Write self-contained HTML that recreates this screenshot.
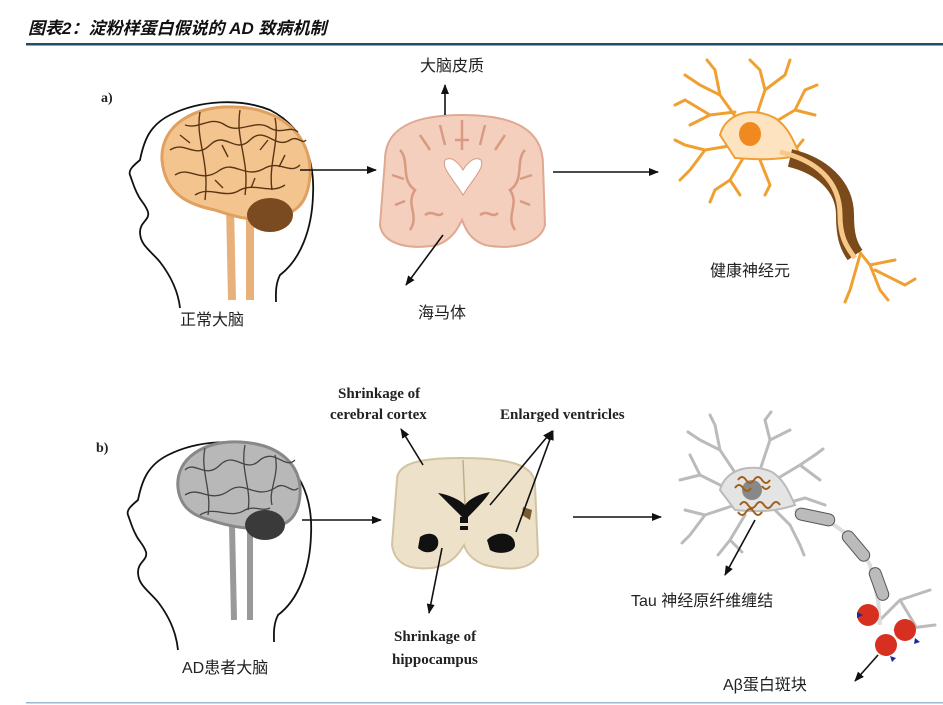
<!DOCTYPE html>
<html><head><meta charset="utf-8"><style>
html,body{margin:0;padding:0;background:#fff;width:943px;height:705px;overflow:hidden}
svg{display:block}
.t{font-family:"Liberation Sans","Noto Sans CJK SC",sans-serif;font-size:16px;fill:#222}
.s{font-family:"Liberation Serif","Noto Serif CJK SC",serif;font-size:15px;font-weight:bold;fill:#222}
</style></head><body>
<svg width="943" height="705" viewBox="0 0 943 705" xmlns="http://www.w3.org/2000/svg">
<defs>
<marker id="ah" markerWidth="10" markerHeight="8" refX="9" refY="4" orient="auto" markerUnits="userSpaceOnUse"><path d="M0,0 L10,4 L0,8 Z" fill="#111"/></marker>
</defs>
<text x="28" y="34" style="font-family:'Liberation Sans','Noto Sans CJK SC',sans-serif;font-size:17px;font-weight:bold;font-style:italic" fill="#111">图表2：淀粉样蛋白假说的 AD 致病机制</text>
<rect x="26" y="43" width="917" height="2.5" fill="#1d4e66"/>
<rect x="26" y="702" width="917" height="1.5" fill="#9bb8cc"/>

<!-- panel a -->
<text x="101" y="102" class="s" style="font-size:14px">a)</text>
<path d="M180,308 C178,290 170,275 160,262 C150,250 140,245 140,232 C140,222 150,220 148,212 C146,205 140,200 138,195 C134,188 132,180 130,175 C128,170 134,165 140,160 C144,140 150,125 170,115 C200,100 240,98 270,110 C300,125 315,155 313,195 C312,230 300,260 280,275 C275,285 276,295 276,302" fill="none" stroke="#111" stroke-width="1.8"/>
<path d="M230,205 L232,300 M250,205 L250,300" stroke="#e8b07a" stroke-width="8"/>
<path d="M162,160 C160,125 195,105 235,107 C280,108 312,135 310,175 C308,205 295,215 270,218 C250,222 230,215 215,210 C190,205 165,195 162,160Z" fill="#f4c48e" stroke="#e0a060" stroke-width="3"/>
<ellipse cx="270" cy="215" rx="23" ry="17" fill="#7a4a20"/>
<g stroke="#5a3515" stroke-width="1.4" fill="none">
<path d="M170,150 C185,140 195,160 210,145 C225,130 235,155 250,140 C265,125 275,150 290,140 C298,135 302,145 306,140"/>
<path d="M175,175 C190,165 200,185 220,170 C235,160 245,180 265,168 C280,160 290,175 300,165"/>
<path d="M185,125 C200,130 210,115 225,125 C240,135 255,118 270,128 C282,135 290,125 298,132"/>
<path d="M195,195 C210,185 225,200 240,190 C255,182 270,195 285,185"/>
<path d="M200,112 C195,140 210,160 205,200 M240,110 C235,140 250,160 245,195 M275,118 C280,140 268,165 272,190"/>
<path d="M180,135 l10,8 M222,145 l6,12 M260,150 l8,-10 M285,155 l-6,12 M215,180 l8,8 M255,178 l-4,10"/>
</g>
<line x1="300" y1="170" x2="376" y2="170" stroke="#111" stroke-width="1.6" marker-end="url(#ah)"/>
<path d="M385,160 C385,130 410,115 462,115 C515,115 543,130 543,165 L545,225 C540,245 510,250 485,245 C470,240 465,228 462,220 C458,228 452,240 437,245 C410,250 383,245 380,225 Z" fill="#f4cfbe" stroke="#e0a890" stroke-width="2"/>
<g stroke="#d89a80" stroke-width="2.5" fill="none">
<path d="M400,150 C410,160 400,180 415,190 C405,205 420,215 410,230"/>
<path d="M525,150 C515,160 525,180 510,190 C520,205 505,215 515,230"/>
<path d="M440,125 L445,145 M485,125 L480,145 M420,135 L430,150 M505,135 L495,150"/>
<path d="M392,175 l12,4 M532,175 l-12,4 M425,215 c8,-6 12,4 18,-2 M480,215 c8,-6 12,4 18,-2 M395,205 l10,-4 M530,205 l-10,-4"/>
<path d="M462,120 L462,150 M455,140 l14,0"/>
</g>
<path d="M445,160 C452,155 460,165 463,170 C466,165 474,155 481,160 C485,168 472,180 463,195 C454,180 441,168 445,160Z" fill="#fff" stroke="#d89a80"/>
<line x1="445" y1="115" x2="445" y2="85" stroke="#111" stroke-width="1.6" marker-end="url(#ah)"/>
<text x="420" y="71" class="t">大脑皮质</text>
<line x1="443" y1="235" x2="406" y2="285" stroke="#111" stroke-width="1.6" marker-end="url(#ah)"/>
<text x="418" y="318" class="t">海马体</text>
<line x1="553" y1="172" x2="658" y2="172" stroke="#111" stroke-width="1.6" marker-end="url(#ah)"/>
<!-- healthy neuron -->
<g stroke="#f0a030" stroke-width="3" fill="none" stroke-linecap="round">
<path d="M745,130 L720,95 L700,85 M720,95 L715,70 M735,112 L710,115 L685,100 M710,115 L690,125 M700,85 l-15,-10 M715,70 l-8,-10 M685,100 l-10,5"/>
<path d="M755,120 L765,90 L760,70 M765,90 L785,75 M770,125 L795,110 L805,90 M795,110 L815,115 M760,70 l-10,-10 M785,75 l5,-15 M805,90 l12,-5"/>
<path d="M735,145 L705,150 L690,170 M705,150 L685,145 M745,155 L730,180 L715,190 M730,180 L740,195 M690,170 l-10,10 M685,145 l-10,-5 M715,190 l-5,12"/>
<path d="M770,150 L795,150 L810,165 M760,160 L770,185 L765,195 M810,165 l10,10 M795,150 l8,-10"/>
<path d="M850,240 L870,265 L895,260 M870,265 L880,290 M860,255 L850,290 M875,270 L905,285 M850,290 l-5,12 M905,285 l10,-6 M880,290 l8,10"/>
</g>
<path d="M720,135 C725,115 750,105 775,118 C790,128 795,145 800,155 C780,160 760,160 735,158 Z" fill="#fde3bf" stroke="#f0a030" stroke-width="2"/>
<ellipse cx="750" cy="134" rx="11" ry="12" fill="#f08a20"/>
<path d="M790,158 C820,165 845,185 845,215 C845,235 848,245 855,255" fill="none" stroke="#7a4a1a" stroke-width="18"/>
<path d="M780,152 C815,160 840,180 840,215 C840,235 845,245 855,258" fill="none" stroke="#f7c88a" stroke-width="5"/>
<text x="710" y="276" class="t">健康神经元</text>
<text x="180" y="325" class="t">正常大脑</text>

<!-- panel b -->
<text x="96" y="452" class="s" style="font-size:14px">b)</text>
<path d="M178,650 C176,630 168,615 158,602 C148,590 138,585 138,572 C138,562 148,560 146,552 C144,545 138,540 136,535 C132,528 130,520 128,515 C126,510 132,505 138,500 C142,480 148,465 168,455 C198,440 238,438 268,450 C298,465 313,495 311,535 C310,570 298,600 278,615 C273,625 274,635 274,642" fill="none" stroke="#111" stroke-width="1.8"/>
<path d="M232,525 L234,620 M250,525 L250,620" stroke="#999" stroke-width="6"/>
<path d="M178,488 C175,458 205,440 240,442 C280,444 302,465 300,495 C298,520 285,527 265,528 C245,530 225,525 210,520 C190,515 180,505 178,488Z" fill="#b8b8b8" stroke="#888" stroke-width="3"/>
<ellipse cx="265" cy="525" rx="20" ry="15" fill="#3a3a3a"/>
<g stroke="#444" stroke-width="1.3" fill="none">
<path d="M185,470 C195,460 205,480 220,465 C235,450 245,475 260,460 C275,448 285,470 295,460"/>
<path d="M185,495 C200,485 210,505 230,490 C245,480 255,500 275,488 C285,480 292,495 298,488"/>
<path d="M200,515 C215,505 230,520 245,510 C255,505 262,512 270,508"/>
<path d="M205,448 C200,470 212,490 208,515 M245,445 C240,470 252,490 248,510 M275,455 C280,475 268,490 272,505"/>
</g>
<line x1="302" y1="520" x2="381" y2="520" stroke="#111" stroke-width="1.6" marker-end="url(#ah)"/>
<path d="M397,480 C397,465 415,458 460,458 C510,458 535,465 535,485 L538,555 C530,572 505,570 485,565 C472,560 466,552 464,545 C460,552 452,565 432,568 C410,570 395,565 392,545 Z" fill="#ede2c9" stroke="#d2c3a2" stroke-width="2"/>
<path d="M463,460 L465,505" stroke="#bfae8a" stroke-width="1.5"/>
<path d="M438,493 C450,495 460,500 465,505 C470,498 480,494 490,492 C485,500 475,510 465,520 C455,510 445,500 438,493Z" fill="#111"/>
<rect x="460" y="517" width="8" height="6" fill="#111"/><rect x="460" y="526" width="8" height="4" fill="#111"/>
<path d="M420,537 C430,530 440,535 438,545 C436,553 425,555 418,548Z" fill="#111"/>
<path d="M487,540 C497,530 515,532 515,545 C515,552 500,556 490,550Z" fill="#111"/>
<path d="M523,507 L532,510 L530,520 L522,515Z" fill="#7a5a30"/>
<text x="338" y="398" class="s">Shrinkage of</text>
<text x="330" y="419" class="s">cerebral cortex</text>
<text x="500" y="419" class="s">Enlarged ventricles</text>
<text x="394" y="641" class="s">Shrinkage of</text>
<text x="392" y="664" class="s">hippocampus</text>
<line x1="423" y1="465" x2="401" y2="429" stroke="#111" stroke-width="1.6" marker-end="url(#ah)"/>
<line x1="490" y1="505" x2="552" y2="431" stroke="#111" stroke-width="1.6" marker-end="url(#ah)"/>
<line x1="516" y1="532" x2="553" y2="431" stroke="#111" stroke-width="1.6" marker-end="url(#ah)"/>
<line x1="442" y1="548" x2="429" y2="613" stroke="#111" stroke-width="1.6" marker-end="url(#ah)"/>
<line x1="573" y1="517" x2="661" y2="517" stroke="#111" stroke-width="1.6" marker-end="url(#ah)"/>
<!-- AD neuron -->
<g stroke="#bbb" stroke-width="3" fill="none" stroke-linecap="round">
<path d="M740,480 L720,450 L700,440 M720,450 L715,425 M730,490 L700,475 L680,480 M700,475 L690,455 M700,440 l-12,-8 M715,425 l-5,-10"/>
<path d="M760,470 L770,440 L765,420 M770,440 L790,430 M775,480 L800,465 L815,455 M800,465 L820,480 M765,420 l6,-8 M815,455 l8,-6"/>
<path d="M735,505 L705,515 L690,535 M705,515 L685,510 M745,515 L730,540 L718,555 M730,540 L742,552 M690,535 l-8,8"/>
<path d="M770,505 L790,525 L800,545 M780,505 L805,498 L825,505 M800,545 l4,10"/>
<path d="M880,620 L900,600 L930,590 M900,600 L915,625 M895,630 L935,625"/>
</g>
<path d="M720,490 C725,470 750,462 772,472 C785,480 790,495 795,505 C775,512 755,512 735,510 Z" fill="#e4e4e4" stroke="#bbb" stroke-width="2"/>
<ellipse cx="752" cy="490" rx="10" ry="10" fill="#888"/>
<g stroke="#a0601a" stroke-width="2" fill="none">
<path d="M738,480 q4,-6 8,0 t8,0 t8,0 t8,0"/><path d="M735,488 q4,-6 8,0 t8,0"/><path d="M762,486 q4,6 8,0"/>
<path d="M740,505 q4,-6 8,0 t8,0 t8,0 t8,0 t8,0"/><path d="M738,512 q4,6 8,0 t8,0 t8,0"/>
</g>
<path d="M795,510 L830,522 L855,540 L870,565 L878,600 L880,625" fill="none" stroke="#ddd" stroke-width="4"/>
<g fill="#bbb" stroke="#555" stroke-width="1">
<rect x="795" y="511" width="40" height="12" rx="6" transform="rotate(12 815 517)"/>
<rect x="838" y="540" width="36" height="12" rx="6" transform="rotate(50 856 546)"/>
<rect x="862" y="578" width="34" height="12" rx="6" transform="rotate(70 879 584)"/>
</g>
<g fill="#d83020">
<circle cx="868" cy="615" r="11"/><circle cx="905" cy="630" r="11"/><circle cx="886" cy="645" r="11"/>
</g>
<g fill="#1a2a9a"><path d="M857,612 l6,3 l-6,3Z"/><path d="M915,638 l5,4 l-6,2Z"/><path d="M890,656 l6,2 l-4,4Z"/></g>
<line x1="755" y1="520" x2="725" y2="575" stroke="#111" stroke-width="1.6" marker-end="url(#ah)"/>
<text x="631" y="606" class="t">Tau 神经原纤维缠结</text>
<line x1="878" y1="655" x2="855" y2="681" stroke="#111" stroke-width="1.6" marker-end="url(#ah)"/>
<text x="723" y="690" class="t">Aβ蛋白斑块</text>
<text x="182" y="673" class="t">AD患者大脑</text>
</svg>
</body></html>
